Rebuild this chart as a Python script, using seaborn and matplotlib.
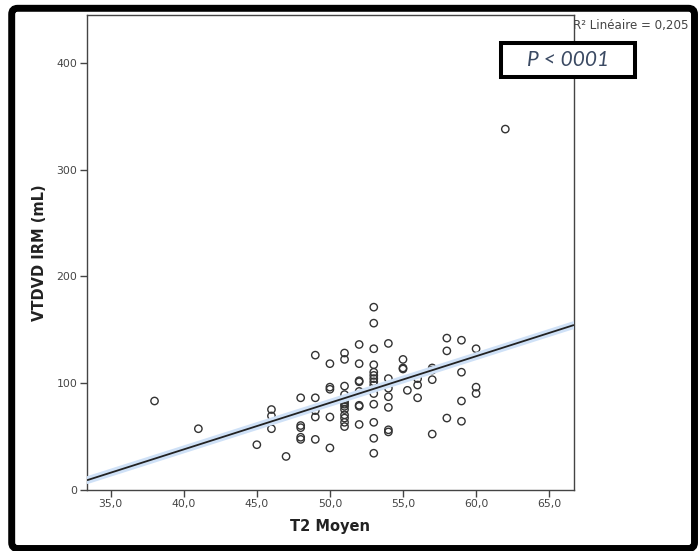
import numpy as np
import pandas as pd
import seaborn as sns
import matplotlib.pyplot as plt
import matplotlib.patheffects as pe
from matplotlib.patches import FancyBboxPatch, Rectangle
from matplotlib.transforms import IdentityTransform

# T2 moyen (x) and VTDVD IRM in mL (y)
t2_moyen = [38,
            41,
            45,
            46, 46, 46,
            47,
            48, 48, 48, 48, 48,
            49, 49, 49, 49, 49,
            50, 50, 50, 50, 50,
            51, 51, 51, 51, 51, 51, 51, 51, 51, 51, 51, 51, 51,
            52, 52, 52, 52, 52, 52, 52, 52,
            53, 53, 53, 53, 53, 53, 53, 53, 53, 53, 53, 53, 53, 53,
            54, 54, 54, 54, 54, 54, 54,
            55, 55, 55, 55.3,
            56, 56, 56,
            57, 57, 57, 57,
            58, 58, 58,
            59, 59, 59, 59,
            60, 60, 60,
            62]
vtdvd_irm = [83,
             57,
             42,
             75, 69, 57,
             31,
             86, 60, 58, 49, 47,
             126, 86, 74, 68, 47,
             118, 96, 94, 68, 39,
             128, 122, 97, 89, 84, 82, 80, 78, 75, 70, 67, 63, 59,
             136, 118, 102, 101, 92, 79, 78, 61,
             171, 156, 132, 117, 110, 107, 104, 101, 98, 90, 80, 63, 48, 34,
             137, 104, 95, 87, 77, 56, 54,
             122, 114, 113, 93,
             104, 98, 86,
             114, 112, 103, 52,
             142, 130, 67,
             140, 110, 83, 64,
             132, 96, 90,
             338]

x_ticks = [35, 40, 45, 50, 55, 60, 65]
y_ticks = [0, 100, 200, 300, 400]

df = pd.DataFrame({'T2 Moyen': t2_moyen, 'VTDVD': vtdvd_irm})

sns.set_style('ticks')
plt.rcParams['font.family'] = ['DejaVu Sans']

fig = plt.figure(figsize=(6.99, 5.51), dpi=100)
ax = fig.add_axes([87 / 699, 1 - 489.5 / 551, (574 - 87) / 699, (489.5 - 15) / 551])

x_min, x_max = 33.38, 66.7
ax.set_xlim(x_min, x_max)
ax.set_ylim(0, 445)

sns.scatterplot(data=df, x='T2 Moyen', y='VTDVD', ax=ax,
                marker='o', s=28, facecolor='none', edgecolor='#333333',
                linewidth=1.0, legend=False, zorder=3)

sns.regplot(data=df, x='T2 Moyen', y='VTDVD', ax=ax, scatter=False,
            ci=None, truncate=False,
            line_kws={'color': '#222222', 'linewidth': 1.3, 'zorder': 4,
                      'solid_capstyle': 'butt',
                      'path_effects': [pe.Stroke(linewidth=5.5, foreground='#cfe1f7',
                                                 capstyle='round'),
                                       pe.Normal()]})

ax.set_xlim(x_min, x_max)
ax.set_ylim(0, 445)
ax.set_xticks(x_ticks)
ax.set_xticklabels([('%.1f' % v).replace('.', ',') for v in x_ticks])
ax.set_yticks(y_ticks)
ax.set_yticklabels([str(v) for v in y_ticks])

for side in ['left', 'right', 'top', 'bottom']:
    ax.spines[side].set_visible(True)
    ax.spines[side].set_color('#444444')
    ax.spines[side].set_linewidth(1.0)

ax.tick_params(axis='both', direction='out', length=5, width=1.0, color='#444444',
               labelsize=7.8, labelcolor='#444444', pad=2)

ax.set_xlabel('T2 Moyen', fontsize=10.5, fontweight='bold', color='#222222', labelpad=7)
ax.set_ylabel('VTDVD IRM (mL)', fontsize=10.5, fontweight='bold', color='#222222', labelpad=7)

# R2 annotation of the fit, top right outside the axes
fig.text(573 / 699, 1 - 25 / 551, 'R² Linéaire = 0,205', fontsize=8.6, color='#444444',
         ha='left', va='center')

# P value box
box = Rectangle((500.5, 551 - 77), 134.5, 34, transform=IdentityTransform(),
                facecolor='white', edgecolor='black', linewidth=2.9, zorder=10)
fig.add_artist(box)
fig.text(568 / 699, 1 - 60 / 551, 'P < 0001', fontsize=15, style='italic',
         family=['Lato', 'DejaVu Sans'], color='#3b4a63', ha='center', va='center', zorder=11)

# thick outer frame with rounded corners
frame = FancyBboxPatch((11.7, 2.5), 694.5 - 11.7, 542.7 - 2.5,
                       boxstyle='round,pad=0,rounding_size=6',
                       transform=IdentityTransform(), facecolor='none',
                       edgecolor='black', linewidth=5.0, zorder=12)
fig.add_artist(frame)

fig.savefig('out.png', dpi=100)
